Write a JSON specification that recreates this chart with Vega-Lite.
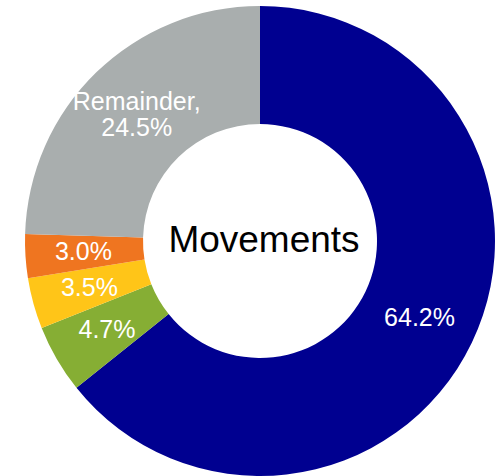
{
  "$schema": "https://vega.github.io/schema/vega-lite/v6.json",
  "width": 520,
  "height": 482,
  "autosize": "none",
  "padding": 0,
  "background": "white",
  "view": {"stroke": null},
  "layer": [
    {
      "data": {"values": [
        {"category": "Movements A", "value": 64.2, "order": 1, "label": "64.2%"},
        {"category": "Movements B", "value": 4.7, "order": 2, "label": "4.7%"},
        {"category": "Movements C", "value": 3.5, "order": 3, "label": "3.5%"},
        {"category": "Movements D", "value": 3.0, "order": 4, "label": "3.0%"},
        {"category": "Remainder", "value": 24.5, "order": 5, "label": "Remainder,\n24.5%"}
      ]},
      "encoding": {
        "theta": {"field": "value", "type": "quantitative", "stack": true},
        "order": {"field": "order", "type": "quantitative"}
      },
      "layer": [
        {
          "mark": {"type": "arc", "innerRadius": 117, "outerRadius": 235},
          "encoding": {
            "color": {
              "field": "category",
              "type": "nominal",
              "scale": {
                "domain": ["Movements A", "Movements B", "Movements C", "Movements D", "Remainder"],
                "range": ["#000090", "#86AE34", "#FFC518", "#EF7520", "#A9AEAE"]
              },
              "legend": null
            }
          }
        },
        {
          "mark": {"type": "text", "radius": 177, "fontSize": 25, "font": "Liberation Sans", "fill": "white"},
          "encoding": {
            "text": {
              "condition": {"test": "datum.category === 'Remainder'", "value": ""},
              "field": "label", "type": "nominal"
            }
          }
        },
        {
          "mark": {"type": "text", "radius": 177, "fontSize": 25, "font": "Liberation Sans", "fill": "white", "lineBreak": "\n", "lineHeight": 26, "dy": -12},
          "encoding": {
            "text": {
              "condition": {"test": "datum.category !== 'Remainder'", "value": ""},
              "field": "label", "type": "nominal"
            }
          }
        }
      ]
    },
    {
      "data": {"values": [{"t": "Movements"}]},
      "mark": {"type": "text", "fontSize": 37, "font": "Liberation Sans", "fill": "black", "dx": 4},
      "encoding": {"text": {"field": "t", "type": "nominal"}}
    }
  ]
}
